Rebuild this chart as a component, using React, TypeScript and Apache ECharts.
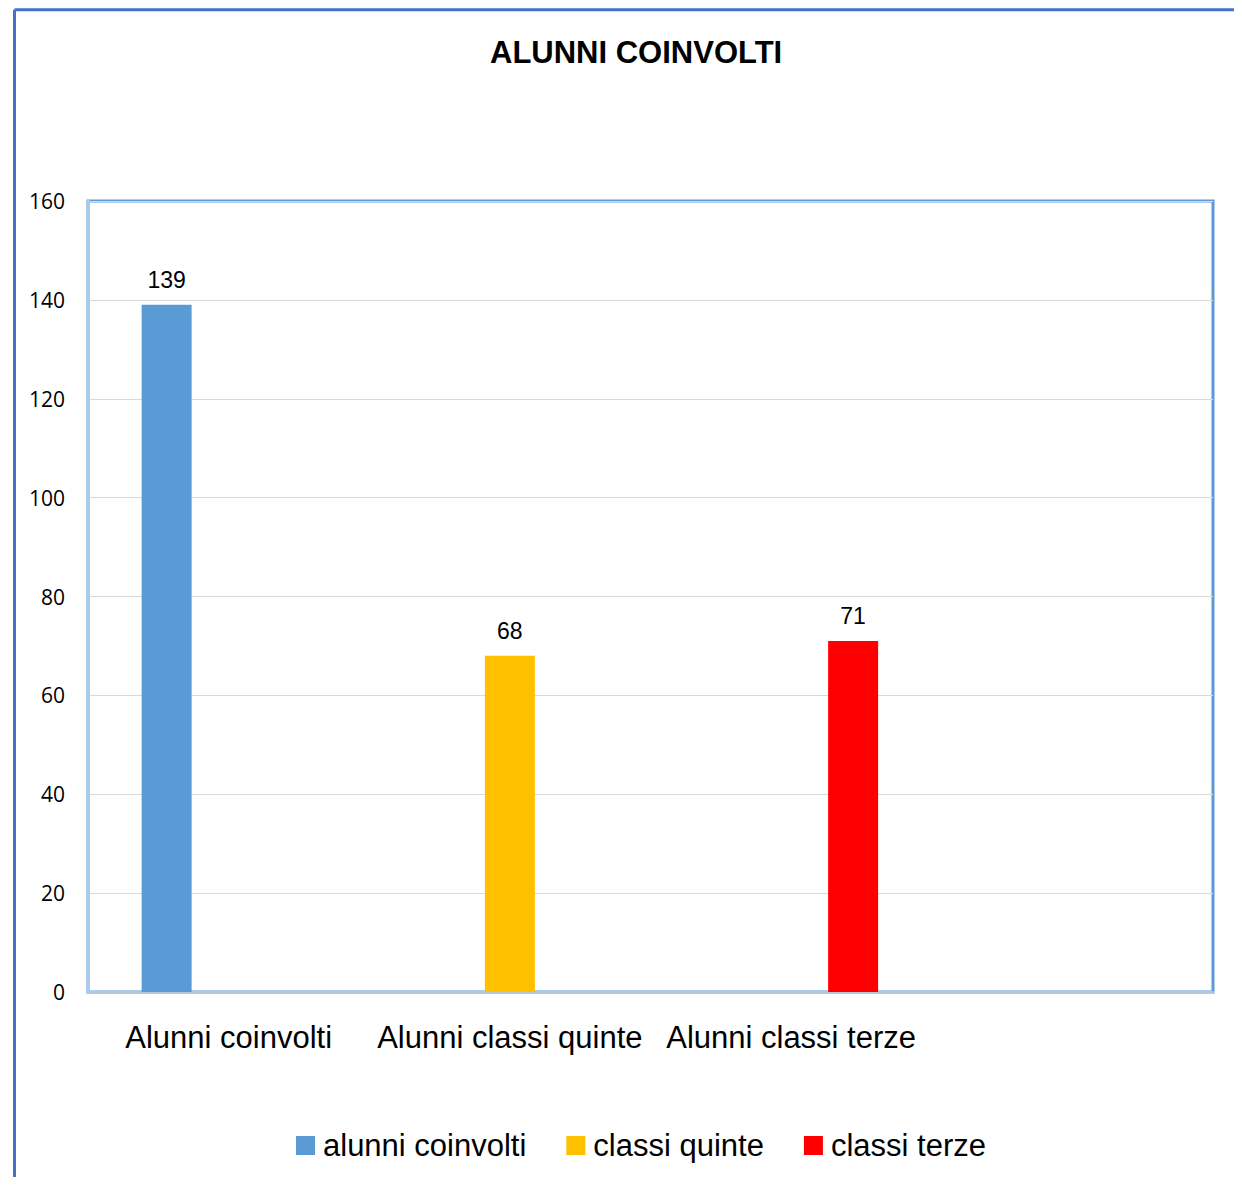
import React, { useEffect, useRef } from "react";
import * as echarts from "echarts";

const categories = ["Alunni coinvolti", "Alunni classi quinte", "Alunni classi terze", ""];
const seriesNames = ["alunni coinvolti", "classi quinte", "classi terze"];
const alunniCoinvolti = [139, null, null, null];
const classiQuinte = [null, 68, null, null];
const classiTerze = [null, null, 71, null];
const seriesColors = ["#5B9BD5", "#FFC000", "#FF0000"];
const yTicks = { min: 0, max: 160, interval: 20 };

const NARROW = "'Liberation Sans Narrow', 'Arial Narrow', 'Liberation Sans', sans-serif";

export default function App() {
  const ref = useRef<HTMLDivElement>(null);
  useEffect(() => {
    if (!ref.current) return;
    const chart = echarts.init(ref.current, null, { renderer: "svg" });
    const values = [alunniCoinvolti, classiQuinte, classiTerze];
    chart.setOption({
      animation: false,
      backgroundColor: "#fff",
      title: {
        text: "ALUNNI COINVOLTI",
        left: 477,
        top: 24,
        textStyle: { fontFamily: NARROW, fontWeight: "bold", fontSize: 31, color: "#000" },
      },
      graphic: [
        { type: "line", shape: { x1: 6.5, y1: 1.7, x2: 1226, y2: 1.7 }, style: { stroke: "#4472C4", lineWidth: 3 } },
        { type: "line", shape: { x1: 6.5, y1: 1.7, x2: 6.5, y2: 1177 }, style: { stroke: "#4472C4", lineWidth: 3 } },
      ],
      legend: {
        top: 1117,
        left: 283,
        itemWidth: 19,
        itemHeight: 19,
        itemGap: 40,
        icon: "rect",
        textStyle: { fontFamily: NARROW, fontSize: 31, color: "#000", padding: [0, 0, 0, 3] },
        data: seriesNames,
      },
      grid: {
        left: 80,
        top: 193,
        width: 1125,
        height: 791,
        show: true,
        borderColor: "#5B9BD5",
        borderWidth: 3,
        containLabel: false,
      },
      xAxis: {
        type: "category",
        data: categories,
        axisTick: { show: false },
        axisLine: { lineStyle: { color: "#B4C7DC", width: 3 } },
        axisLabel: { fontFamily: NARROW, fontSize: 31, color: "#000", margin: 30, interval: 0 },
      },
      yAxis: {
        type: "value",
        min: yTicks.min,
        max: yTicks.max,
        interval: yTicks.interval,
        axisLine: { show: true, lineStyle: { color: "#A9CBE9", width: 3 } },
        axisTick: { show: false },
        splitLine: { lineStyle: { color: "#D9D9D9", width: 1 } },
        axisLabel: { fontFamily: "'Open Sans', 'Noto Sans', sans-serif", fontSize: 21, color: "#000", margin: 23 },
      },
      series: seriesNames.map((name, i) => ({
        name,
        type: "bar",
        data: values[i],
        barWidth: 50,
        barGap: "24%",
        itemStyle: { color: seriesColors[i] },
        label: {
          show: true,
          position: "top",
          distance: 13,
          fontFamily: NARROW,
          fontSize: 23,
          color: "#000",
        },
      })),
    });
    return () => chart.dispose();
  }, []);
  return <div ref={ref} style={{ width: 1226, height: 1169 }} />;
}
